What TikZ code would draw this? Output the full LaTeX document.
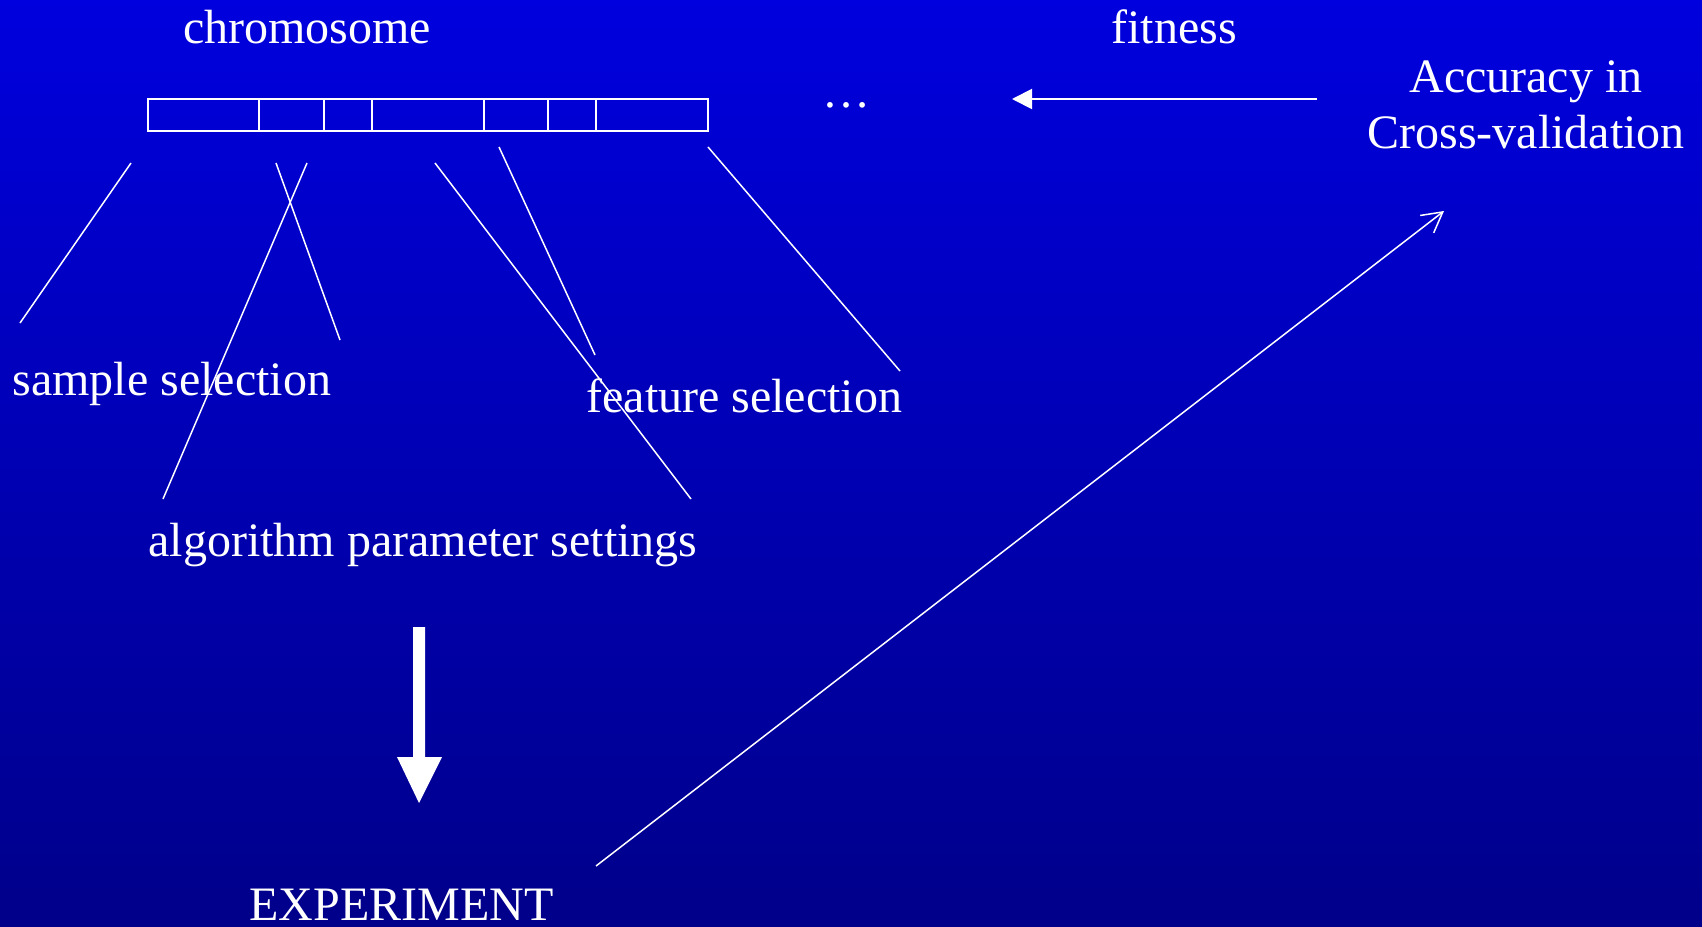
\documentclass[tikz,border=0pt]{standalone}
\usepackage{fontspec}
\setmainfont{Liberation Serif}
\usetikzlibrary{arrows.meta}
\definecolor{bgtop}{RGB}{0,0,222}
\definecolor{bgbot}{RGB}{0,0,138}
\begin{document}
\begin{tikzpicture}[x=0.5pt,y=-0.5pt,
  lbl/.style={text=white,inner sep=0pt,font=\fontsize{24}{28}\selectfont},
  thinline/.style={draw=white,line width=0.75pt},
  cell/.style={draw=white,line width=1pt}]
\useasboundingbox (0,0) rectangle (1702,926);
\shade[top color=bgtop,bottom color=bgbot] (0,0) rectangle (1702,926);

% chromosome cells
\foreach \a/\b in {147.6/259.4,259.4/323.5,323.5/372,372/484,484/548,548/596,596/708}
  \draw[cell] (\a,99) rectangle (\b,131);

% labels
\node[lbl,anchor=base] (chrom) at (307,43) {chromosome};
\node[lbl,anchor=base] (fit) at (1174,43) {fitness};
\node[lbl,anchor=base] (acc1) at (1526,92) {Accuracy in};
\node[lbl,anchor=base] (acc2) at (1526,148) {Cross-validation};
\node[lbl,anchor=base] (dots) at (846,107) {…};
\node[lbl,anchor=base west] (samp) at (12,395) {sample selection};
\node[lbl,anchor=base west] (feat) at (586,412) {feature selection};
\node[lbl,anchor=base west] (alg) at (148,556) {algorithm parameter settings};
\node[lbl,anchor=base west] (exp) at (249,920) {EXPERIMENT};

% pointer lines
\coordinate (l1a) at (131,163); \coordinate (l1b) at (20,323);
\coordinate (l2a) at (276,163); \coordinate (l2b) at (340,340);
\coordinate (l3a) at (307,163); \coordinate (l3b) at (163,499);
\coordinate (l4a) at (435,163); \coordinate (l4b) at (691,499);
\coordinate (l5a) at (499,147); \coordinate (l5b) at (595,355);
\coordinate (l6a) at (708,147); \coordinate (l6b) at (900,371);
\foreach \n in {1,...,6} \draw[thinline] (l\n a) -- (l\n b);

% fitness arrow
\coordinate (fa) at (1317,99);
\coordinate (fb) at (1012,99);
\draw[draw=white,fill=white,line width=1pt,-{Triangle[length=10pt,width=10pt]}] (fa) -- (fb);

% experiment to accuracy
\coordinate (ea) at (596,866);
\coordinate (eb) at (1444,211);
\draw[thinline,-{Straight Barb[length=10pt,width=11pt]}] (ea) -- (eb);

% big down arrow
\fill[white] (413,627) -- (425,627) -- (425,757) -- (442,757) -- (419,803) -- (397,757) -- (413,757) -- cycle;
\end{tikzpicture}
\end{document}
